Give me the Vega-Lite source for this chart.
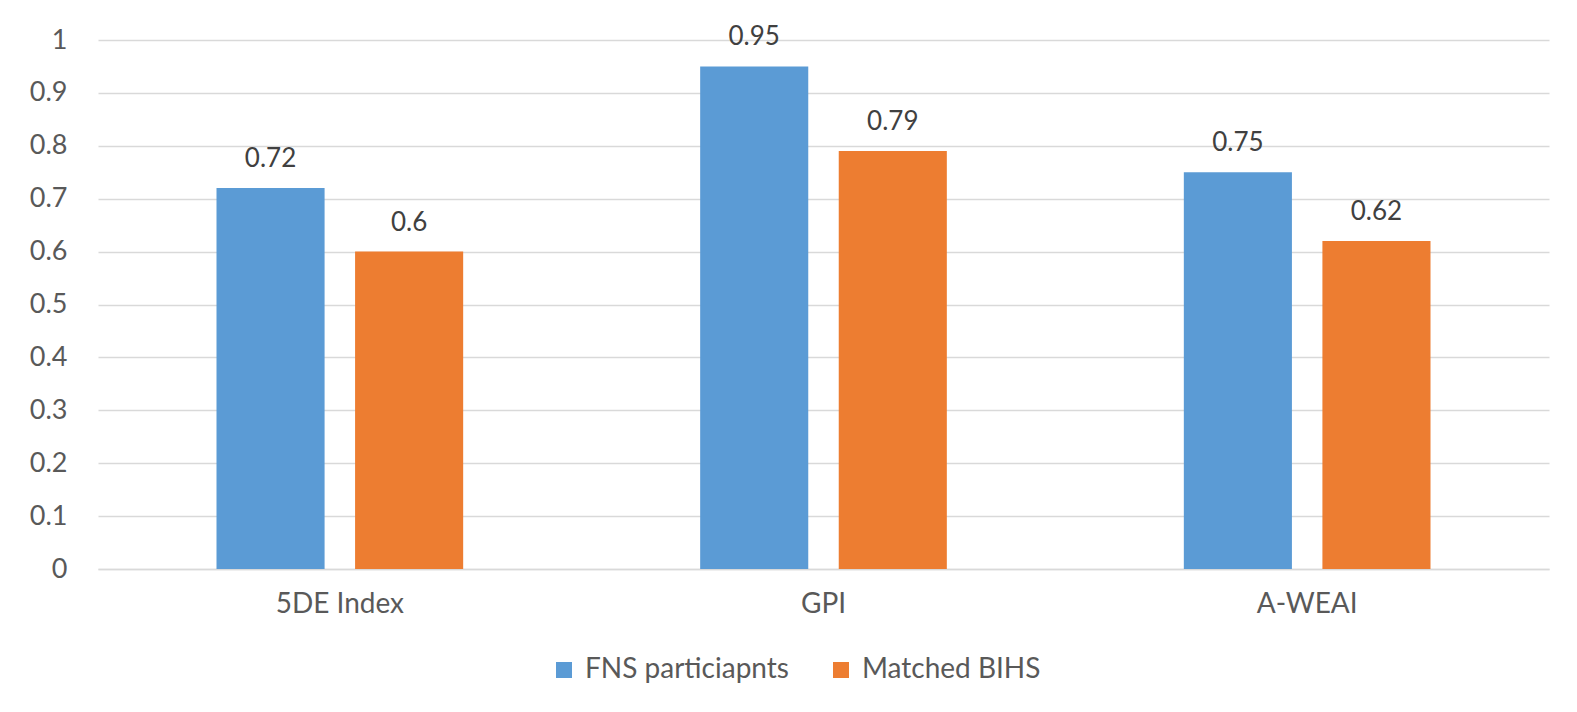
{
  "$schema": "https://vega.github.io/schema/vega-lite/v6.json",
  "width": 1451,
  "height": 529,
  "autosize": {"type": "none"},
  "padding": {"left": 98, "top": 40, "right": 28, "bottom": 143},
  "background": "white",
  "data": {
    "values": [
      {"category": "5DE Index", "series": "FNS particiapnts", "value": 0.72},
      {"category": "5DE Index", "series": "Matched BIHS", "value": 0.6},
      {"category": "GPI", "series": "FNS particiapnts", "value": 0.95},
      {"category": "GPI", "series": "Matched BIHS", "value": 0.79},
      {"category": "A-WEAI", "series": "FNS particiapnts", "value": 0.75},
      {"category": "A-WEAI", "series": "Matched BIHS", "value": 0.62}
    ]
  },
  "encoding": {
    "x": {
      "field": "category", "type": "nominal", "sort": ["5DE Index", "GPI", "A-WEAI"],
      "scale": {"paddingInner": 0.49, "paddingOuter": 0.245},
      "axis": {"title": null, "labelAngle": 0, "labelFont": "Lato", "labelFontSize": 28, "labelColor": "#595959",
               "labelPadding": 21, "ticks": false, "domainColor": "#D9D9D9", "domainWidth": 1.5, "grid": false}
    },
    "xOffset": {
      "field": "series", "type": "nominal", "sort": ["FNS particiapnts", "Matched BIHS"],
      "scale": {"paddingInner": 0.22, "paddingOuter": 0}
    },
    "y": {
      "field": "value", "type": "quantitative",
      "scale": {"domain": [0, 1], "nice": false},
      "axis": {"title": null, "values": [0, 0.1, 0.2, 0.3, 0.4, 0.5, 0.6, 0.7, 0.8, 0.9, 1], "labelExpr": "datum.value === 0 ? '0' : datum.value === 1 ? '1' : format(datum.value, '.1f')",
               "labelFont": "Lato", "labelFontSize": 27, "labelColor": "#595959", "labelPadding": 31,
               "ticks": false, "domain": false, "grid": true, "gridColor": "#D9D9D9", "gridWidth": 1.5}
    }
  },
  "layer": [
    {
      "mark": {"type": "bar"},
      "encoding": {
        "color": {
          "field": "series", "type": "nominal", "sort": ["FNS particiapnts", "Matched BIHS"],
          "scale": {"domain": ["FNS particiapnts", "Matched BIHS"], "range": ["#5B9BD5", "#ED7D31"]},
          "legend": {
            "title": null, "orient": "none", "direction": "horizontal", "legendX": 452, "legendY": 616,
            "symbolType": "square", "symbolSize": 256, "symbolStrokeWidth": 0, "symbolOpacity": 1,
            "labelFont": "Lato", "labelFontSize": 28, "labelColor": "#595959", "labelOffset": 7,
            "labelLimit": 600, "columnPadding": 38
          }
        }
      }
    },
    {
      "mark": {"type": "text", "font": "Lato", "fontSize": 26, "color": "#404040", "baseline": "alphabetic", "dy": -21},
      "encoding": {
        "text": {"field": "value", "type": "quantitative"}
      }
    }
  ],
  "config": {"view": {"stroke": null}}
}
